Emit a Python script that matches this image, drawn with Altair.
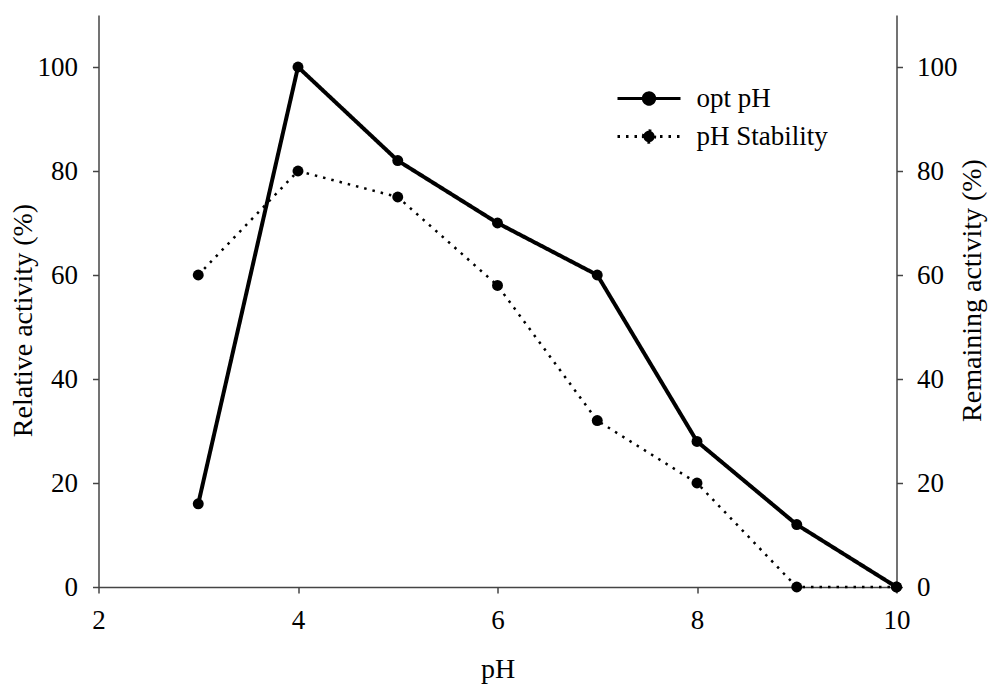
import altair as alt
import pandas as pd

# pH profile of the enzyme
ph = [3, 4, 5, 6, 7, 8, 9, 10]
opt_ph = [16, 100, 82, 70, 60, 28, 12, 0]          # relative activity (%)
ph_stability = [60, 80, 75, 58, 32, 20, 0, 0]      # remaining activity (%)
series = ["opt pH", "pH Stability"]

opt_df = pd.DataFrame({"pH": ph, "value": opt_ph, "series": series[0]})
stab_df = pd.DataFrame({"pH": ph, "value": ph_stability, "series": series[1]})

FONT = "'Liberation Serif', 'Times New Roman', 'DejaVu Serif', serif"
INK = "#000000"
AXIS_INK = "#444444"

x_scale = alt.Scale(domain=[2, 10], nice=False, zero=False)
y_scale = alt.Scale(domain=[0, 110], nice=False)
dash_scale = alt.Scale(domain=series, range=[[1, 0], [2.5, 6]])

# line + dot legend glyph, wider than its nominal symbol box
glyph = "M-3,0H3M-0.54,0A0.54,0.54 0 1 1 0.54,0A0.54,0.54 0 1 1 -0.54,0Z"

x_enc = alt.X(
    "pH:Q",
    scale=x_scale,
    axis=alt.Axis(
        title="pH", values=[2, 4, 6, 8, 10], format="d", labelFlush=False,
        titleY=90, titleBaseline="alphabetic",
    ),
)

legend = alt.Legend(
    title=None,
    orient="none",
    legendX=537,
    legendY=70,
    symbolType=glyph,
    symbolSize=441,
    symbolStrokeColor=INK,
    symbolFillColor=INK,
    symbolStrokeWidth=3,
    labelFont=FONT,
    labelFontSize=27,
    labelColor=INK,
    labelOffset=34,
    rowPadding=10,
)

y_ticks = [0, 20, 40, 60, 80, 100]

left = alt.Chart(opt_df)
right = alt.Chart(stab_df)

opt_line = left.mark_line(color=INK, strokeWidth=4).encode(
    x=x_enc,
    y=alt.Y(
        "value:Q",
        scale=y_scale,
        axis=alt.Axis(
            title="Relative activity (%)", orient="left", values=y_ticks,
            labelFlush=False,
            titleX=-75, titleY=305, titleAngle=270, titleAlign="center",
            titleBaseline="middle", labelPadding=15,
        ),
    ),
    strokeDash=alt.StrokeDash("series:N", scale=dash_scale, legend=legend),
)
opt_pts = left.mark_circle(color=INK, size=120, opacity=1).encode(
    x="pH:Q", y="value:Q"
)

stab_line = right.mark_line(color=INK, strokeWidth=2.5).encode(
    x="pH:Q",
    y=alt.Y(
        "value:Q",
        scale=y_scale,
        axis=alt.Axis(
            title="Remaining activity (%)", orient="right", values=y_ticks,
            labelFlush=False,
            titleX=76, titleY=275, titleAngle=270, titleAlign="center",
            titleBaseline="middle", labelPadding=14,
        ),
    ),
    strokeDash=alt.StrokeDash("series:N", scale=dash_scale, legend=legend),
)
stab_pts = right.mark_circle(color=INK, size=120, opacity=1).encode(
    x="pH:Q", y="value:Q"
)

left_layer = alt.layer(opt_line, opt_pts)
right_layer = alt.layer(stab_line, stab_pts)

chart = (
    alt.layer(left_layer, right_layer)
    .resolve_scale(y="independent")
    .properties(
        width=798,
        height=572,
        autosize=alt.AutoSizeParams(type="none"),
        padding={"left": 98.5, "top": 15, "right": 91, "bottom": 97},
        background="white",
    )
    .configure(font=FONT)
    .configure_view(stroke=None)
    .configure_axis(
        grid=False,
        domainColor=AXIS_INK,
        domainWidth=1.5,
        tickColor=AXIS_INK,
        tickWidth=1.5,
        tickSize=6,
        labelFont=FONT,
        labelFontSize=27,
        labelColor=INK,
        titleFont=FONT,
        titleFontSize=28,
        titleFontWeight="normal",
        titleColor=INK,
    )
    .configure_legend(labelFont=FONT)
    .configure_axisX(labelPadding=14)
)

chart.save("out.html", embed_options={"renderer": "svg", "actions": False})
